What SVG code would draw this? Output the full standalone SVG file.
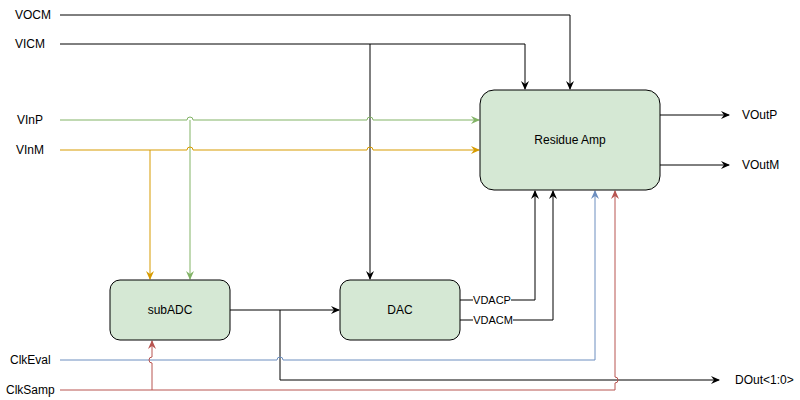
<svg xmlns="http://www.w3.org/2000/svg" width="800" height="400" viewBox="0 0 800 400">
<style>
text{font-family:"Liberation Sans",Arial,sans-serif;font-size:12px;fill:#000}
.n rect{fill:#d5e8d4;stroke:#000;stroke-width:1}
.w{fill:none;stroke-width:1}
.k{stroke:#000}.g{stroke:#82b366}.o{stroke:#d79b00}.b{stroke:#6c8ebf}.r{stroke:#b85450}
</style>
<defs>
<marker id="ak" markerWidth="10" markerHeight="10" refX="8" refY="5" orient="auto" markerUnits="userSpaceOnUse"><path d="M0,1 L9,5 L0,9 L3,5 Z" fill="#000"/></marker>
<marker id="ag" markerWidth="10" markerHeight="10" refX="8" refY="5" orient="auto" markerUnits="userSpaceOnUse"><path d="M0,1 L9,5 L0,9 L3,5 Z" fill="#82b366"/></marker>
<marker id="ao" markerWidth="10" markerHeight="10" refX="8" refY="5" orient="auto" markerUnits="userSpaceOnUse"><path d="M0,1 L9,5 L0,9 L3,5 Z" fill="#d79b00"/></marker>
<marker id="ab" markerWidth="10" markerHeight="10" refX="8" refY="5" orient="auto" markerUnits="userSpaceOnUse"><path d="M0,1 L9,5 L0,9 L3,5 Z" fill="#6c8ebf"/></marker>
<marker id="ar" markerWidth="10" markerHeight="10" refX="8" refY="5" orient="auto" markerUnits="userSpaceOnUse"><path d="M0,1 L9,5 L0,9 L3,5 Z" fill="#b85450"/></marker>
</defs>
<g id="connectors">
<path class="w k" d="M60,15 H570 V89" marker-end="url(#ak)"/>
<path class="w k" d="M60,44 H525 V89" marker-end="url(#ak)"/>
<path class="w k" d="M370,44 V279" marker-end="url(#ak)"/>
<path class="w g" d="M60,120 H187 a3,3 0 0 1 6,0 H367 a3,3 0 0 1 6,0 H479" marker-end="url(#ag)"/>
<path class="w g" d="M190,120 V279" marker-end="url(#ag)"/>
<path class="w o" d="M60,150 H187 a3,3 0 0 1 6,0 H367 a3,3 0 0 1 6,0 H479" marker-end="url(#ao)"/>
<path class="w o" d="M150,150 V279" marker-end="url(#ao)"/>
<path class="w k" d="M230,310 H339" marker-end="url(#ak)"/>
<path class="w k" d="M280,310 V380 H719" marker-end="url(#ak)"/>
<path class="w b" d="M60,360 H277 a3,3 0 0 1 6,0 H595 V191" marker-end="url(#ab)"/>
<path class="w r" d="M60,390 H615 V383 a3,3 0 0 0 0,-6 V191" marker-end="url(#ar)"/>
<path class="w r" d="M152,390 V363 a3,3 0 0 1 0,-6 V341" marker-end="url(#ar)"/>
<path class="w k" d="M460,300 H473 M511,300 H535 V191" marker-end="url(#ak)"/>
<path class="w k" d="M460,320 H473 M513,320 H553 V191" marker-end="url(#ak)"/>
<path class="w k" d="M660,115 H729" marker-end="url(#ak)"/>
<path class="w k" d="M660,165 H729" marker-end="url(#ak)"/>
</g>
<g id="residue" class="n"><rect x="480" y="90" width="180" height="100" rx="14"/><text x="570" y="144" text-anchor="middle">Residue Amp</text></g>
<g id="subadc" class="n"><rect x="110" y="280" width="120" height="60" rx="10"/><text x="170" y="314" text-anchor="middle">subADC</text></g>
<g id="dac" class="n"><rect x="340" y="280" width="120" height="60" rx="10"/><text x="400" y="314" text-anchor="middle">DAC</text></g>
<g id="labels">
<text x="15" y="19">VOCM</text>
<text x="15" y="48">VICM</text>
<text x="17" y="124">VInP</text>
<text x="16" y="154">VInM</text>
<text x="10" y="364">ClkEval</text>
<text x="6" y="394">ClkSamp</text>
<text x="492" y="304" text-anchor="middle" style="font-size:11px">VDACP</text>
<text x="493" y="324" text-anchor="middle" style="font-size:11px">VDACM</text>
<text x="742" y="119">VOutP</text>
<text x="742" y="169">VOutM</text>
<text x="735" y="384">DOut&lt;1:0&gt;</text>
</g>
</svg>
